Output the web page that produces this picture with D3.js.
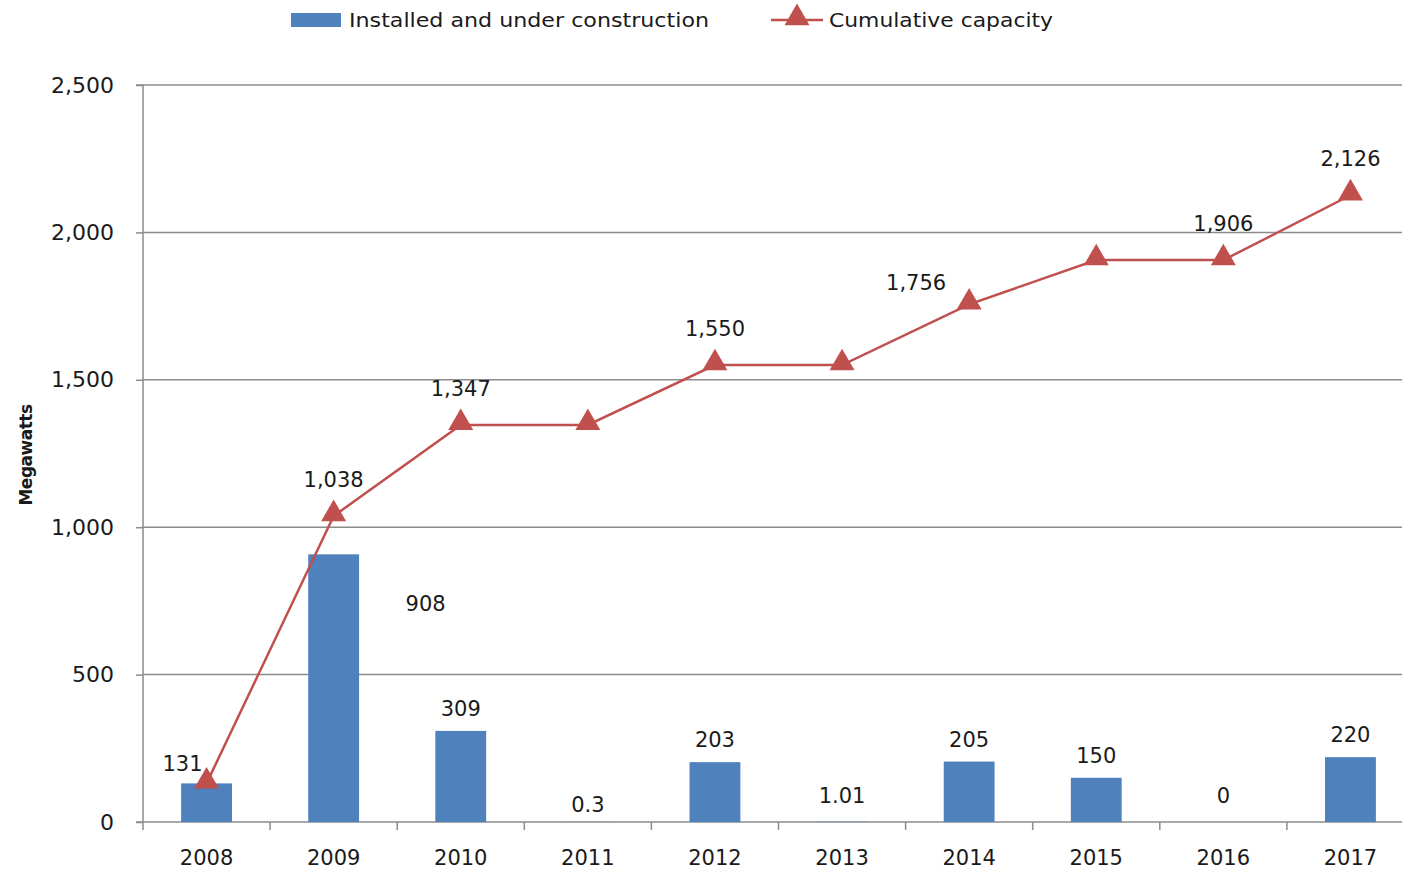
<!DOCTYPE html>
<html>
<head>
<meta charset="utf-8">
<script src="https://cdn.jsdelivr.net/npm/d3@7"></script>
<style>
  html, body { margin: 0; padding: 0; background: #fff; }
  svg { display: block; }
  text { font-family: "DejaVu Sans", Verdana, sans-serif; fill: #1a1a1a; }
</style>
</head>
<body>
<svg id="chart" width="1402" height="870"></svg>
<script>
// ---- data ----
const years = ["2008","2009","2010","2011","2012","2013","2014","2015","2016","2017"];
const installed = [131, 908, 309, 0.3, 203, 1.01, 205, 150, 0, 220];
const installedLabels = ["131","908","309","0.3","203","1.01","205","150","0","220"];
const cumulative = [131, 1038, 1347, 1347, 1550, 1550, 1756, 1906, 1906, 2126];
const cumulativeLabels = ["", "1,038", "1,347", "", "1,550", "", "1,756", "", "1,906", "2,126"];
const yTicks = [0, 500, 1000, 1500, 2000, 2500];
const seriesNames = ["Installed and under construction", "Cumulative capacity"];

// ---- layout ----
const svg = d3.select("#chart");
const mLeft = 143, mRight = 1414, mTop = 85, mBottom = 822;
const barColor = "#4F81BD", lineColor = "#C0504D", gridColor = "#8c8c8c";
const fs = 21;

const x = d3.scaleBand().domain(years).range([mLeft, mRight]).paddingInner(0.6).paddingOuter(0.3);
const xb = d3.scaleBand().domain(years).range([mLeft, mRight]);
const y = d3.scaleLinear().domain([0, 2500]).range([mBottom, mTop]);

// gridlines
svg.append("g").selectAll("line").data(yTicks.filter(d => d > 0)).join("line")
  .attr("x1", mLeft).attr("x2", mRight)
  .attr("y1", d => y(d)).attr("y2", d => y(d))
  .attr("stroke", gridColor).attr("stroke-width", 1.5);

// y axis
const yAxis = d3.axisLeft(y).tickValues(yTicks).tickFormat(d3.format(",")).tickSize(7).tickPadding(22);
const gy = svg.append("g").attr("transform", `translate(${mLeft},0)`).call(yAxis);
gy.select(".domain").attr("stroke", gridColor).attr("stroke-width", 1.5).attr("d", `M-7,${mTop}H0V${mBottom}H-7`);
gy.selectAll(".tick line").attr("stroke", gridColor).attr("stroke-width", 1.5);
gy.selectAll(".tick text").attr("font-size", 22).attr("fill", "#333")
  .style("font-family", '"DejaVu Sans", sans-serif');

// x axis
const gx = svg.append("g").attr("transform", `translate(0,${mBottom})`);
gx.append("line").attr("x1", mLeft).attr("x2", mRight).attr("y1", 0).attr("y2", 0)
  .attr("stroke", gridColor).attr("stroke-width", 1.5);
gx.selectAll("line.tk").data(years.concat(["end"])).join("line").attr("class", "tk")
  .attr("x1", (d, i) => mLeft + i * xb.bandwidth()).attr("x2", (d, i) => mLeft + i * xb.bandwidth())
  .attr("y1", 0).attr("y2", 8).attr("stroke", gridColor).attr("stroke-width", 1.5);
gx.selectAll("text").data(years).join("text")
  .attr("x", d => xb(d) + xb.bandwidth() / 2).attr("y", 43)
  .attr("text-anchor", "middle").attr("font-size", fs).text(d => d);

// y title
svg.append("text").attr("transform", "translate(32,455) rotate(-90)")
  .attr("text-anchor", "middle").attr("font-size", 17).attr("font-weight", "bold")
  .attr("letter-spacing", -0.5).text("Megawatts");

// bars
svg.append("g").selectAll("rect").data(installed).join("rect")
  .attr("x", (d, i) => x(years[i])).attr("width", x.bandwidth())
  .attr("y", d => y(d)).attr("height", d => mBottom - y(d))
  .attr("fill", barColor);

// bar labels (per-label offsets mimic original placement)
const barLabelOffset = {0: [-24, -12], 1: [92, 57], 3: [0, -10], 5: [0, -19], 8: [0, -19]};
svg.append("g").selectAll("text").data(installed).join("text")
  .attr("x", (d, i) => xb(years[i]) + xb.bandwidth() / 2 + (barLabelOffset[i] ? barLabelOffset[i][0] : 0))
  .attr("y", (d, i) => y(d) + (barLabelOffset[i] ? barLabelOffset[i][1] : -15))
  .attr("text-anchor", "middle").attr("font-size", fs).text((d, i) => installedLabels[i]);

// line
const cx = (i) => xb(years[i]) + xb.bandwidth() / 2;
const line = d3.line().x((d, i) => cx(i)).y(d => y(d));
svg.append("path").datum(cumulative).attr("d", line)
  .attr("fill", "none").attr("stroke", lineColor).attr("stroke-width", 2.5);

const tri = d3.symbol().type(d3.symbolTriangle).size(270);
svg.append("g").selectAll("path").data(cumulative).join("path")
  .attr("transform", (d, i) => `translate(${cx(i)},${y(d) - 2})`)
  .attr("d", tri).attr("fill", lineColor);

const lineLabelOffset = {6: [-53, -14]};
svg.append("g").selectAll("text").data(cumulative).join("text")
  .attr("x", (d, i) => cx(i) + (lineLabelOffset[i] ? lineLabelOffset[i][0] : 0))
  .attr("y", (d, i) => y(d) + (lineLabelOffset[i] ? lineLabelOffset[i][1] : -29))
  .attr("text-anchor", "middle").attr("font-size", fs).text((d, i) => cumulativeLabels[i]);

// legend
const lg = svg.append("g");
lg.append("rect").attr("x", 291).attr("y", 13).attr("width", 50).attr("height", 14).attr("fill", barColor);
lg.append("text").attr("x", 349).attr("y", 27).attr("font-size", 20).attr("textLength", 360)
  .attr("lengthAdjust", "spacingAndGlyphs").text(seriesNames[0]);
lg.append("line").attr("x1", 771).attr("x2", 823).attr("y1", 20).attr("y2", 20)
  .attr("stroke", lineColor).attr("stroke-width", 2.5);
lg.append("path").attr("transform", "translate(797,18)").attr("d", tri).attr("fill", lineColor);
lg.append("text").attr("x", 829).attr("y", 27).attr("font-size", 20).attr("textLength", 224)
  .attr("lengthAdjust", "spacingAndGlyphs").text(seriesNames[1]);
</script>
</body>
</html>
